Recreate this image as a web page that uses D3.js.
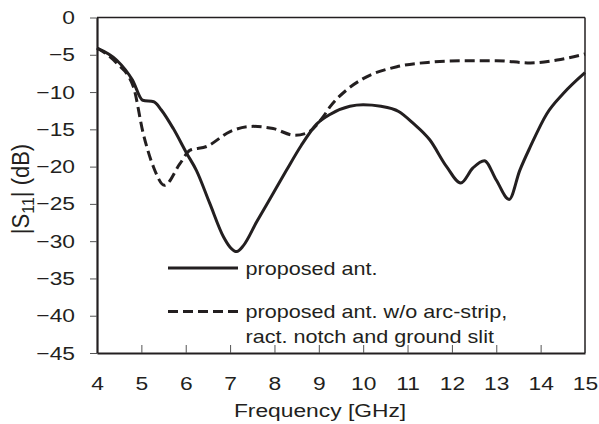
<!DOCTYPE html>
<html><head><meta charset="utf-8">
<script src="https://cdn.jsdelivr.net/npm/d3@7"></script>
<style>
body{margin:0;background:#fff;}
text{font-family:"Liberation Sans",Arial,sans-serif;fill:#231f20;}
</style></head>
<body><svg id="c" width="599" height="424"></svg>
<script>
const xTicks = [4,5,6,7,8,9,10,11,12,13,14,15];
const yTicks = [0,-5,-10,-15,-20,-25,-30,-35,-40,-45];

const freqSolid = [4.0,4.44,4.8,5.03,5.28,5.45,5.72,6.02,6.24,6.54,6.85,7.0,7.15,7.3,7.6,7.93,8.27,8.6,8.95,9.25,9.7,10.0,10.4,10.8,11.13,11.5,11.88,12.2,12.47,12.73,13.0,13.29,13.53,13.77,14.14,14.51,15.0];
const s11Solid  = [-4.1,-5.7,-8.4,-11.1,-11.3,-12.4,-14.9,-18.2,-20.5,-24.9,-29.4,-30.8,-31.4,-30.6,-27.4,-24.0,-20.5,-17.2,-14.3,-13.0,-11.9,-11.7,-11.9,-12.6,-14.2,-16.4,-20.0,-22.2,-20.2,-19.2,-21.8,-24.4,-20.5,-17.3,-12.9,-10.2,-7.4];

const freqDashed = [4.0,4.44,4.82,5.04,5.27,5.52,5.87,6.1,6.47,7.0,7.52,7.97,8.46,8.73,9.1,9.25,9.63,10.0,10.76,11.5,12.26,13.0,13.77,14.37,15.0];
const s11Dashed  = [-4.1,-6.1,-9.3,-15.5,-20.0,-22.5,-19.6,-17.8,-17.3,-15.3,-14.6,-14.9,-15.8,-15.5,-13.3,-12.0,-9.7,-8.2,-6.6,-6.0,-5.8,-5.8,-6.1,-5.7,-4.9];

const legendLabels = ["proposed ant.", ["proposed ant. w/o arc-strip,","ract. notch and ground slit"]];

const SX = 1.2; // horizontal text stretch seen in the reference
const svg = d3.select("#c");
const x = d3.scaleLinear().domain([4,15]).range([97,585]);
const y = d3.scaleLinear().domain([-45,0]).range([353,17.5]);
const ink = "#231f20";

// frame top & right
svg.append("line").attr("x1",x(4)).attr("x2",x(15)).attr("y1",y(0)).attr("y2",y(0)).attr("stroke",ink).attr("stroke-width",1.5);
svg.append("line").attr("x1",x(15)).attr("x2",x(15)).attr("y1",y(0)).attr("y2",y(-45)).attr("stroke",ink).attr("stroke-width",1.5);

// x axis with inward ticks
const gx = svg.append("g").attr("transform",`translate(0,${y(-45)})`)
  .call(d3.axisBottom(x).tickValues(xTicks).tickSize(-8).tickSizeOuter(0).tickFormat(d3.format("d")));
gx.select(".domain").attr("stroke",ink).attr("stroke-width",2.2);
gx.selectAll(".tick line").attr("stroke","#555").attr("stroke-width",1);
gx.selectAll(".tick text").attr("y",0).attr("dy",null)
  .attr("transform",`translate(0,37) scale(${SX},1)`)
  .style("font-size","19px").attr("fill",ink);

// y axis
const gy = svg.append("g").attr("transform",`translate(${x(4)},0)`)
  .call(d3.axisLeft(y).tickValues(yTicks).tickSize(7).tickSizeOuter(0).tickFormat(d3.format("d")));
gy.select(".domain").attr("stroke",ink).attr("stroke-width",2.2);
gy.selectAll(".tick line").attr("stroke","#555").attr("stroke-width",1);
gy.selectAll(".tick text").attr("x",-22/SX).attr("transform",`scale(${SX},1)`)
  .style("font-size","19px").attr("fill",ink);

// axis titles
svg.append("text").attr("transform",`translate(320,417) scale(${SX},1)`)
  .attr("text-anchor","middle").style("font-size","19px").text("Frequency [GHz]");
const yl = svg.append("text").attr("transform",`translate(29,189) rotate(-90) scale(1,1.05)`)
  .attr("text-anchor","middle").style("font-size","22px");
yl.append("tspan").text("|S");
yl.append("tspan").attr("dy",5).style("font-size","16px").text("11");
yl.append("tspan").attr("dy",-5).text("| (dB)");

// curves
const line = d3.line().x(d=>x(d[0])).y(d=>y(d[1])).curve(d3.curveMonotoneX);
svg.append("path").datum(d3.zip(freqDashed,s11Dashed)).attr("d",line)
  .attr("fill","none").attr("stroke",ink).attr("stroke-width",3).attr("stroke-dasharray","10,5");
svg.append("path").datum(d3.zip(freqSolid,s11Solid)).attr("d",line)
  .attr("fill","none").attr("stroke",ink).attr("stroke-width",3);

// legend
svg.append("line").attr("x1",168).attr("x2",238).attr("y1",268).attr("y2",268).attr("stroke",ink).attr("stroke-width",3);
svg.append("line").attr("x1",168).attr("x2",238).attr("y1",311.5).attr("y2",311.5).attr("stroke",ink).attr("stroke-width",3).attr("stroke-dasharray","10,5");
svg.append("text").attr("transform",`translate(245.5,274.5) scale(${SX},1)`).style("font-size","18px").text(legendLabels[0]);
svg.append("text").attr("transform",`translate(245.5,318) scale(${SX},1)`).style("font-size","18px").text(legendLabels[1][0]);
svg.append("text").attr("transform",`translate(245.5,343) scale(${SX},1)`).style("font-size","18px").text(legendLabels[1][1]);
</script></body></html>
